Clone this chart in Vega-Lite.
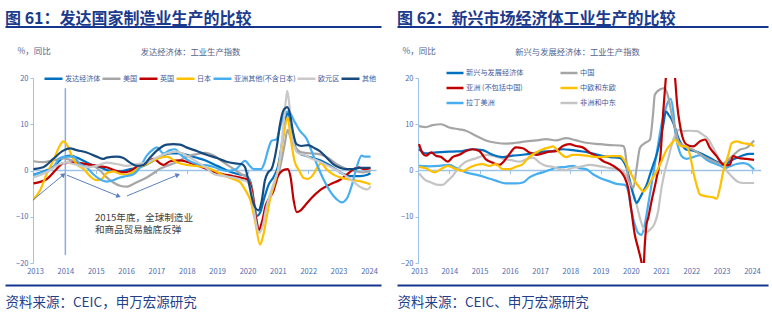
{
"$schema":"https://vega.github.io/schema/vega-lite/v6.json",
"padding":{"left":5,"top":10,"right":4,"bottom":4},
"background":"white",
"config":{"font":"Noto Sans CJK SC","view":{"stroke":null},"axis":{"grid":false}},
"datasets":{
"arrows":[{"id":"a","t1":2012.93,"v1":-6.4,"t2":2013.92,"v2":-1.0},{"id":"b","t1":2014.05,"v1":-1.0,"t2":2015.73,"v2":-5.5},{"id":"c","t1":2016.03,"v1":-5.5,"t2":2017.68,"v2":-1.0}],
"dev":[
{"s":"发达经济体","t":2012.95,"v":-0.9},{"s":"发达经济体","t":2013.27,"v":-0.3},{"s":"发达经济体","t":2013.6,"v":0.8},{"s":"发达经济体","t":2013.93,"v":2.8},{"s":"发达经济体","t":2014.15,"v":3.2},{"s":"发达经济体","t":2014.48,"v":2.5},{"s":"发达经济体","t":2014.81,"v":1.4},{"s":"发达经济体","t":2015.14,"v":0.7},{"s":"发达经济体","t":2015.47,"v":-0.1},{"s":"发达经济体","t":2015.8,"v":-0.2},{"s":"发达经济体","t":2016.13,"v":0.3},{"s":"发达经济体","t":2016.46,"v":0.7},{"s":"发达经济体","t":2016.79,"v":1.7},{"s":"发达经济体","t":2017.12,"v":3.0},{"s":"发达经济体","t":2017.45,"v":3.7},{"s":"发达经济体","t":2017.78,"v":3.7},{"s":"发达经济体","t":2017.99,"v":3.4},{"s":"发达经济体","t":2018.3,"v":2.8},{"s":"发达经济体","t":2018.6,"v":2.2},{"s":"发达经济体","t":2019.0,"v":1.0},{"s":"发达经济体","t":2019.4,"v":-0.2},{"s":"发达经济体","t":2019.7,"v":-0.8},{"s":"发达经济体","t":2019.95,"v":-1.2},{"s":"发达经济体","t":2020.1,"v":-2.5},{"s":"发达经济体","t":2020.2,"v":-6.5},{"s":"发达经济体","t":2020.32,"v":-9.8},{"s":"发达经济体","t":2020.42,"v":-9.0},{"s":"发达经济体","t":2020.55,"v":-6.0},{"s":"发达经济体","t":2020.7,"v":-3.0},{"s":"发达经济体","t":2020.85,"v":-1.5},{"s":"发达经济体","t":2021.0,"v":0.8},{"s":"发达经济体","t":2021.15,"v":6.5},{"s":"发达经济体","t":2021.27,"v":11.5},{"s":"发达经济体","t":2021.33,"v":12.5},{"s":"发达经济体","t":2021.42,"v":10.5},{"s":"发达经济体","t":2021.55,"v":5.5},{"s":"发达经济体","t":2021.7,"v":3.8},{"s":"发达经济体","t":2021.9,"v":3.2},{"s":"发达经济体","t":2022.1,"v":2.8},{"s":"发达经济体","t":2022.35,"v":2.3},{"s":"发达经济体","t":2022.6,"v":1.5},{"s":"发达经济体","t":2022.85,"v":0.5},{"s":"发达经济体","t":2023.1,"v":-0.6},{"s":"发达经济体","t":2023.4,"v":-1.2},{"s":"发达经济体","t":2023.7,"v":-1.2},{"s":"发达经济体","t":2023.95,"v":-0.9},{"s":"发达经济体","t":2024.05,"v":-0.6},
{"s":"美国","t":2012.95,"v":2.0},{"s":"美国","t":2013.27,"v":1.8},{"s":"美国","t":2013.6,"v":2.2},{"s":"美国","t":2013.93,"v":2.6},{"s":"美国","t":2014.21,"v":2.2},{"s":"美国","t":2014.59,"v":1.5},{"s":"美国","t":2014.92,"v":1.0},{"s":"美国","t":2015.14,"v":0.0},{"s":"美国","t":2015.36,"v":-1.5},{"s":"美国","t":2015.58,"v":-2.6},{"s":"美国","t":2015.8,"v":-3.3},{"s":"美国","t":2016.02,"v":-3.5},{"s":"美国","t":2016.24,"v":-2.9},{"s":"美国","t":2016.46,"v":-2.2},{"s":"美国","t":2016.68,"v":-1.5},{"s":"美国","t":2016.9,"v":-0.6},{"s":"美国","t":2017.12,"v":0.4},{"s":"美国","t":2017.34,"v":1.0},{"s":"美国","t":2017.56,"v":1.5},{"s":"美国","t":2017.78,"v":2.2},{"s":"美国","t":2018.0,"v":3.0},{"s":"美国","t":2018.3,"v":3.5},{"s":"美国","t":2018.6,"v":3.8},{"s":"美国","t":2018.9,"v":3.2},{"s":"美国","t":2019.2,"v":1.8},{"s":"美国","t":2019.5,"v":0.5},{"s":"美国","t":2019.8,"v":-0.8},{"s":"美国","t":2020.0,"v":-1.5},{"s":"美国","t":2020.15,"v":-4.0},{"s":"美国","t":2020.28,"v":-10.0},{"s":"美国","t":2020.38,"v":-13.0},{"s":"美国","t":2020.5,"v":-11.0},{"s":"美国","t":2020.65,"v":-7.0},{"s":"美国","t":2020.8,"v":-4.5},{"s":"美国","t":2020.95,"v":-2.5},{"s":"美国","t":2021.1,"v":1.5},{"s":"美国","t":2021.22,"v":5.5},{"s":"美国","t":2021.32,"v":8.8},{"s":"美国","t":2021.42,"v":7.0},{"s":"美国","t":2021.55,"v":5.2},{"s":"美国","t":2021.7,"v":4.2},{"s":"美国","t":2021.9,"v":3.8},{"s":"美国","t":2022.1,"v":3.7},{"s":"美国","t":2022.4,"v":3.5},{"s":"美国","t":2022.7,"v":2.5},{"s":"美国","t":2022.95,"v":1.3},{"s":"美国","t":2023.2,"v":0.5},{"s":"美国","t":2023.5,"v":-0.1},{"s":"美国","t":2023.8,"v":-0.4},{"s":"美国","t":2024.05,"v":-0.1},
{"s":"英国","t":2012.95,"v":-2.8},{"s":"英国","t":2013.38,"v":-1.9},{"s":"英国","t":2013.71,"v":0.3},{"s":"英国","t":2013.93,"v":1.6},{"s":"英国","t":2014.26,"v":1.7},{"s":"英国","t":2014.59,"v":1.5},{"s":"英国","t":2015.03,"v":1.0},{"s":"英国","t":2015.36,"v":0.7},{"s":"英国","t":2015.69,"v":-0.1},{"s":"英国","t":2015.91,"v":-0.4},{"s":"英国","t":2016.13,"v":-0.1},{"s":"英国","t":2016.35,"v":0.8},{"s":"英国","t":2016.68,"v":1.7},{"s":"英国","t":2016.9,"v":2.5},{"s":"英国","t":2017.23,"v":1.2},{"s":"英国","t":2017.45,"v":2.0},{"s":"英国","t":2017.78,"v":2.2},{"s":"英国","t":2017.99,"v":1.9},{"s":"英国","t":2018.3,"v":1.2},{"s":"英国","t":2018.6,"v":0.5},{"s":"英国","t":2018.9,"v":-0.3},{"s":"英国","t":2019.2,"v":-0.8},{"s":"英国","t":2019.5,"v":-1.2},{"s":"英国","t":2019.8,"v":-1.6},{"s":"英国","t":2020.0,"v":-2.0},{"s":"英国","t":2020.15,"v":-4.5},{"s":"英国","t":2020.27,"v":-10.0},{"s":"英国","t":2020.38,"v":-12.8},{"s":"英国","t":2020.48,"v":-11.0},{"s":"英国","t":2020.6,"v":-7.5},{"s":"英国","t":2020.72,"v":-6.0},{"s":"英国","t":2020.85,"v":-4.5},{"s":"英国","t":2020.98,"v":-1.5},{"s":"英国","t":2021.1,"v":-0.3},{"s":"英国","t":2021.22,"v":0.2},{"s":"英国","t":2021.32,"v":0.3},{"s":"英国","t":2021.42,"v":-1.5},{"s":"英国","t":2021.52,"v":-6.5},{"s":"英国","t":2021.62,"v":-9.0},{"s":"英国","t":2021.75,"v":-8.6},{"s":"英国","t":2021.9,"v":-7.5},{"s":"英国","t":2022.1,"v":-6.0},{"s":"英国","t":2022.4,"v":-4.2},{"s":"英国","t":2022.72,"v":-3.0},{"s":"英国","t":2023.05,"v":-2.0},{"s":"英国","t":2023.25,"v":-1.0},{"s":"英国","t":2023.5,"v":0.3},{"s":"英国","t":2023.65,"v":0.7},{"s":"英国","t":2023.85,"v":0.3},{"s":"英国","t":2024.05,"v":0.5},
{"s":"日本","t":2012.95,"v":-6.2},{"s":"日本","t":2013.16,"v":-4.4},{"s":"日本","t":2013.38,"v":-0.8},{"s":"日本","t":2013.6,"v":2.1},{"s":"日本","t":2013.82,"v":5.4},{"s":"日本","t":2013.93,"v":6.3},{"s":"日本","t":2014.04,"v":5.7},{"s":"日本","t":2014.21,"v":3.2},{"s":"日本","t":2014.37,"v":1.4},{"s":"日本","t":2014.59,"v":0.4},{"s":"日本","t":2014.81,"v":-1.2},{"s":"日本","t":2015.03,"v":-2.1},{"s":"日本","t":2015.2,"v":-1.8},{"s":"日本","t":2015.36,"v":-0.6},{"s":"日本","t":2015.58,"v":-0.2},{"s":"日本","t":2015.8,"v":-0.7},{"s":"日本","t":2016.02,"v":-0.9},{"s":"日本","t":2016.24,"v":-0.3},{"s":"日本","t":2016.46,"v":0.8},{"s":"日本","t":2016.68,"v":1.4},{"s":"日本","t":2017.01,"v":2.5},{"s":"日本","t":2017.34,"v":3.0},{"s":"日本","t":2017.67,"v":1.8},{"s":"日本","t":2017.99,"v":1.2},{"s":"日本","t":2018.3,"v":1.0},{"s":"日本","t":2018.6,"v":0.7},{"s":"日本","t":2018.9,"v":0.0},{"s":"日本","t":2019.2,"v":-1.0},{"s":"日本","t":2019.5,"v":-1.8},{"s":"日本","t":2019.75,"v":-2.5},{"s":"日本","t":2019.95,"v":-4.5},{"s":"日本","t":2020.1,"v":-6.5},{"s":"日本","t":2020.25,"v":-11.0},{"s":"日本","t":2020.41,"v":-16.0},{"s":"日本","t":2020.5,"v":-14.5},{"s":"日本","t":2020.62,"v":-10.5},{"s":"日本","t":2020.75,"v":-6.0},{"s":"日本","t":2020.88,"v":-3.0},{"s":"日本","t":2021.0,"v":0.0},{"s":"日本","t":2021.12,"v":4.5},{"s":"日本","t":2021.22,"v":9.0},{"s":"日本","t":2021.32,"v":11.5},{"s":"日本","t":2021.42,"v":7.0},{"s":"日本","t":2021.55,"v":2.0},{"s":"日本","t":2021.7,"v":0.0},{"s":"日本","t":2021.85,"v":-1.6},{"s":"日本","t":2022.0,"v":-1.8},{"s":"日本","t":2022.15,"v":-1.0},{"s":"日本","t":2022.3,"v":0.6},{"s":"日本","t":2022.42,"v":1.6},{"s":"日本","t":2022.6,"v":0.3},{"s":"日本","t":2022.83,"v":-0.9},{"s":"日本","t":2023.1,"v":-1.6},{"s":"日本","t":2023.4,"v":-2.0},{"s":"日本","t":2023.7,"v":-2.3},{"s":"日本","t":2024.05,"v":-3.0},
{"s":"亚洲其他(不含日本)","t":2012.95,"v":-1.0},{"s":"亚洲其他(不含日本)","t":2013.27,"v":-0.4},{"s":"亚洲其他(不含日本)","t":2013.6,"v":0.7},{"s":"亚洲其他(不含日本)","t":2013.82,"v":2.7},{"s":"亚洲其他(不含日本)","t":2014.04,"v":3.0},{"s":"亚洲其他(不含日本)","t":2014.26,"v":3.0},{"s":"亚洲其他(不含日本)","t":2014.48,"v":1.4},{"s":"亚洲其他(不含日本)","t":2014.7,"v":0.7},{"s":"亚洲其他(不含日本)","t":2014.92,"v":-0.8},{"s":"亚洲其他(不含日本)","t":2015.14,"v":-1.9},{"s":"亚洲其他(不含日本)","t":2015.36,"v":-2.4},{"s":"亚洲其他(不含日本)","t":2015.58,"v":-2.1},{"s":"亚洲其他(不含日本)","t":2015.8,"v":-1.5},{"s":"亚洲其他(不含日本)","t":2016.02,"v":-1.2},{"s":"亚洲其他(不含日本)","t":2016.24,"v":-0.8},{"s":"亚洲其他(不含日本)","t":2016.46,"v":0.7},{"s":"亚洲其他(不含日本)","t":2016.68,"v":3.2},{"s":"亚洲其他(不含日本)","t":2016.9,"v":4.6},{"s":"亚洲其他(不含日本)","t":2017.01,"v":5.0},{"s":"亚洲其他(不含日本)","t":2017.23,"v":3.7},{"s":"亚洲其他(不含日本)","t":2017.45,"v":4.4},{"s":"亚洲其他(不含日本)","t":2017.61,"v":4.6},{"s":"亚洲其他(不含日本)","t":2017.83,"v":3.2},{"s":"亚洲其他(不含日本)","t":2018.1,"v":2.0},{"s":"亚洲其他(不含日本)","t":2018.4,"v":1.3},{"s":"亚洲其他(不含日本)","t":2018.76,"v":1.0},{"s":"亚洲其他(不含日本)","t":2019.0,"v":0.5},{"s":"亚洲其他(不含日本)","t":2019.3,"v":-0.1},{"s":"亚洲其他(不含日本)","t":2019.6,"v":0.2},{"s":"亚洲其他(不含日本)","t":2019.92,"v":2.1},{"s":"亚洲其他(不含日本)","t":2020.05,"v":1.2},{"s":"亚洲其他(不含日本)","t":2020.2,"v":0.3},{"s":"亚洲其他(不含日本)","t":2020.45,"v":0.3},{"s":"亚洲其他(不含日本)","t":2020.55,"v":1.5},{"s":"亚洲其他(不含日本)","t":2020.67,"v":4.3},{"s":"亚洲其他(不含日本)","t":2020.79,"v":6.4},{"s":"亚洲其他(不含日本)","t":2020.96,"v":6.8},{"s":"亚洲其他(不含日本)","t":2021.07,"v":9.3},{"s":"亚洲其他(不含日本)","t":2021.24,"v":12.5},{"s":"亚洲其他(不含日本)","t":2021.35,"v":12.8},{"s":"亚洲其他(不含日本)","t":2021.56,"v":10.4},{"s":"亚洲其他(不含日本)","t":2021.72,"v":8.6},{"s":"亚洲其他(不含日本)","t":2021.95,"v":6.8},{"s":"亚洲其他(不含日本)","t":2022.11,"v":4.2},{"s":"亚洲其他(不含日本)","t":2022.28,"v":1.4},{"s":"亚洲其他(不含日本)","t":2022.5,"v":-1.9},{"s":"亚洲其他(不含日本)","t":2022.71,"v":-4.4},{"s":"亚洲其他(不含日本)","t":2022.93,"v":-6.2},{"s":"亚洲其他(不含日本)","t":2023.1,"v":-6.9},{"s":"亚洲其他(不含日本)","t":2023.26,"v":-6.2},{"s":"亚洲其他(不含日本)","t":2023.43,"v":-3.3},{"s":"亚洲其他(不含日本)","t":2023.59,"v":0.6},{"s":"亚洲其他(不含日本)","t":2023.76,"v":3.2},{"s":"亚洲其他(不含日本)","t":2023.87,"v":3.0},{"s":"亚洲其他(不含日本)","t":2024.05,"v":3.0},
{"s":"欧元区","t":2012.95,"v":-1.5},{"s":"欧元区","t":2013.38,"v":-0.4},{"s":"欧元区","t":2013.82,"v":1.4},{"s":"欧元区","t":2014.04,"v":1.7},{"s":"欧元区","t":2014.37,"v":1.2},{"s":"欧元区","t":2014.7,"v":0.7},{"s":"欧元区","t":2015.03,"v":1.0},{"s":"欧元区","t":2015.36,"v":1.7},{"s":"欧元区","t":2015.69,"v":1.4},{"s":"欧元区","t":2016.02,"v":1.0},{"s":"欧元区","t":2016.35,"v":1.4},{"s":"欧元区","t":2016.68,"v":1.7},{"s":"欧元区","t":2017.01,"v":2.8},{"s":"欧元区","t":2017.34,"v":3.7},{"s":"欧元区","t":2017.67,"v":4.1},{"s":"欧元区","t":2017.99,"v":3.2},{"s":"欧元区","t":2018.3,"v":2.0},{"s":"欧元区","t":2018.6,"v":0.8},{"s":"欧元区","t":2018.9,"v":-0.8},{"s":"欧元区","t":2019.2,"v":-1.2},{"s":"欧元区","t":2019.5,"v":-1.5},{"s":"欧元区","t":2019.8,"v":-2.0},{"s":"欧元区","t":2020.0,"v":-2.5},{"s":"欧元区","t":2020.15,"v":-5.5},{"s":"欧元区","t":2020.27,"v":-11.0},{"s":"欧元区","t":2020.38,"v":-13.5},{"s":"欧元区","t":2020.5,"v":-12.0},{"s":"欧元区","t":2020.62,"v":-8.0},{"s":"欧元区","t":2020.75,"v":-5.0},{"s":"欧元区","t":2020.9,"v":-2.0},{"s":"欧元区","t":2021.05,"v":1.5},{"s":"欧元区","t":2021.17,"v":9.0},{"s":"欧元区","t":2021.27,"v":15.5},{"s":"欧元区","t":2021.31,"v":17.2},{"s":"欧元区","t":2021.38,"v":14.0},{"s":"欧元区","t":2021.5,"v":6.5},{"s":"欧元区","t":2021.65,"v":3.8},{"s":"欧元区","t":2021.85,"v":3.4},{"s":"欧元区","t":2022.1,"v":2.6},{"s":"欧元区","t":2022.35,"v":2.0},{"s":"欧元区","t":2022.6,"v":1.2},{"s":"欧元区","t":2022.9,"v":0.2},{"s":"欧元区","t":2023.15,"v":-0.8},{"s":"欧元区","t":2023.45,"v":-2.2},{"s":"欧元区","t":2023.7,"v":-3.5},{"s":"欧元区","t":2023.95,"v":-4.1},{"s":"欧元区","t":2024.05,"v":-3.4},
{"s":"其他","t":2012.95,"v":0.3},{"s":"其他","t":2013.27,"v":0.7},{"s":"其他","t":2013.6,"v":2.5},{"s":"其他","t":2013.93,"v":4.3},{"s":"其他","t":2014.15,"v":4.8},{"s":"其他","t":2014.37,"v":4.4},{"s":"其他","t":2014.7,"v":3.9},{"s":"其他","t":2015.03,"v":3.0},{"s":"其他","t":2015.25,"v":2.5},{"s":"其他","t":2015.36,"v":2.8},{"s":"其他","t":2015.69,"v":3.0},{"s":"其他","t":2015.91,"v":2.7},{"s":"其他","t":2016.13,"v":1.7},{"s":"其他","t":2016.35,"v":1.0},{"s":"其他","t":2016.57,"v":1.2},{"s":"其他","t":2016.79,"v":2.8},{"s":"其他","t":2017.01,"v":4.3},{"s":"其他","t":2017.34,"v":5.6},{"s":"其他","t":2017.56,"v":5.7},{"s":"其他","t":2017.78,"v":5.6},{"s":"其他","t":2017.99,"v":5.0},{"s":"其他","t":2018.33,"v":4.2},{"s":"其他","t":2018.65,"v":3.4},{"s":"其他","t":2018.99,"v":2.7},{"s":"其他","t":2019.31,"v":1.9},{"s":"其他","t":2019.64,"v":1.5},{"s":"其他","t":2019.8,"v":1.4},{"s":"其他","t":2019.91,"v":0.8},{"s":"其他","t":2020.03,"v":-2.2},{"s":"其他","t":2020.14,"v":-5.8},{"s":"其他","t":2020.25,"v":-8.0},{"s":"其他","t":2020.36,"v":-8.6},{"s":"其他","t":2020.47,"v":-6.5},{"s":"其他","t":2020.57,"v":-2.2},{"s":"其他","t":2020.68,"v":-0.4},{"s":"其他","t":2020.79,"v":0.3},{"s":"其他","t":2020.96,"v":5.0},{"s":"其他","t":2021.07,"v":10.0},{"s":"其他","t":2021.2,"v":13.2},{"s":"其他","t":2021.31,"v":13.7},{"s":"其他","t":2021.4,"v":12.2},{"s":"其他","t":2021.5,"v":8.2},{"s":"其他","t":2021.61,"v":5.7},{"s":"其他","t":2021.78,"v":5.3},{"s":"其他","t":2022.0,"v":5.5},{"s":"其他","t":2022.16,"v":5.0},{"s":"其他","t":2022.38,"v":4.2},{"s":"其他","t":2022.6,"v":2.8},{"s":"其他","t":2022.82,"v":1.4},{"s":"其他","t":2023.04,"v":0.6},{"s":"其他","t":2023.26,"v":0.3},{"s":"其他","t":2023.48,"v":0.3},{"s":"其他","t":2023.7,"v":0.6},{"s":"其他","t":2024.05,"v":0.6}
],
"em":[
{"s":"新兴与发展经济体","t":2013.0,"v":4.6},{"s":"新兴与发展经济体","t":2013.23,"v":3.7},{"s":"新兴与发展经济体","t":2013.56,"v":3.9},{"s":"新兴与发展经济体","t":2014.11,"v":4.1},{"s":"新兴与发展经济体","t":2014.44,"v":4.2},{"s":"新兴与发展经济体","t":2014.77,"v":4.6},{"s":"新兴与发展经济体","t":2015.1,"v":4.4},{"s":"新兴与发展经济体","t":2015.43,"v":3.4},{"s":"新兴与发展经济体","t":2015.76,"v":2.9},{"s":"新兴与发展经济体","t":2016.09,"v":3.2},{"s":"新兴与发展经济体","t":2016.43,"v":3.4},{"s":"新兴与发展经济体","t":2016.76,"v":3.7},{"s":"新兴与发展经济体","t":2017.09,"v":4.1},{"s":"新兴与发展经济体","t":2017.42,"v":4.2},{"s":"新兴与发展经济体","t":2017.75,"v":4.6},{"s":"新兴与发展经济体","t":2018.08,"v":4.4},{"s":"新兴与发展经济体","t":2018.41,"v":4.1},{"s":"新兴与发展经济体","t":2018.65,"v":3.8},{"s":"新兴与发展经济体","t":2018.98,"v":3.3},{"s":"新兴与发展经济体","t":2019.31,"v":2.9},{"s":"新兴与发展经济体","t":2019.64,"v":2.7},{"s":"新兴与发展经济体","t":2019.75,"v":2.0},{"s":"新兴与发展经济体","t":2019.86,"v":0.5},{"s":"新兴与发展经济体","t":2019.97,"v":-2.3},{"s":"新兴与发展经济体","t":2020.08,"v":-5.2},{"s":"新兴与发展经济体","t":2020.19,"v":-7.0},{"s":"新兴与发展经济体","t":2020.3,"v":-5.9},{"s":"新兴与发展经济体","t":2020.41,"v":-4.5},{"s":"新兴与发展经济体","t":2020.52,"v":-3.1},{"s":"新兴与发展经济体","t":2020.63,"v":-0.9},{"s":"新兴与发展经济体","t":2020.74,"v":1.3},{"s":"新兴与发展经济体","t":2020.85,"v":3.4},{"s":"新兴与发展经济体","t":2020.96,"v":6.3},{"s":"新兴与发展经济体","t":2021.07,"v":9.9},{"s":"新兴与发展经济体","t":2021.16,"v":12.8},{"s":"新兴与发展经济体","t":2021.24,"v":12.1},{"s":"新兴与发展经济体","t":2021.35,"v":11.0},{"s":"新兴与发展经济体","t":2021.46,"v":9.2},{"s":"新兴与发展经济体","t":2021.57,"v":7.0},{"s":"新兴与发展经济体","t":2021.68,"v":5.6},{"s":"新兴与发展经济体","t":2021.84,"v":4.5},{"s":"新兴与发展经济体","t":2022.06,"v":4.3},{"s":"新兴与发展经济体","t":2022.28,"v":3.8},{"s":"新兴与发展经济体","t":2022.5,"v":3.1},{"s":"新兴与发展经济体","t":2022.72,"v":2.3},{"s":"新兴与发展经济体","t":2022.94,"v":1.6},{"s":"新兴与发展经济体","t":2023.11,"v":1.1},{"s":"新兴与发展经济体","t":2023.27,"v":2.0},{"s":"新兴与发展经济体","t":2023.49,"v":2.7},{"s":"新兴与发展经济体","t":2023.71,"v":3.3},{"s":"新兴与发展经济体","t":2023.93,"v":3.6},{"s":"新兴与发展经济体","t":2024.07,"v":3.6},
{"s":"中国","t":2013.0,"v":9.6},{"s":"中国","t":2013.23,"v":9.4},{"s":"中国","t":2013.45,"v":9.8},{"s":"中国","t":2013.73,"v":10.0},{"s":"中国","t":2014.0,"v":9.3},{"s":"中国","t":2014.33,"v":8.9},{"s":"中国","t":2014.55,"v":8.6},{"s":"中国","t":2014.88,"v":7.5},{"s":"中国","t":2015.21,"v":6.5},{"s":"中国","t":2015.54,"v":6.0},{"s":"中国","t":2015.87,"v":5.8},{"s":"中国","t":2016.2,"v":6.0},{"s":"中国","t":2016.54,"v":6.3},{"s":"中国","t":2016.87,"v":6.5},{"s":"中国","t":2017.2,"v":6.8},{"s":"中国","t":2017.53,"v":6.5},{"s":"中国","t":2017.86,"v":7.0},{"s":"中国","t":2018.19,"v":6.5},{"s":"中国","t":2018.52,"v":6.0},{"s":"中国","t":2018.98,"v":5.7},{"s":"中国","t":2019.31,"v":5.5},{"s":"中国","t":2019.64,"v":5.4},{"s":"中国","t":2019.75,"v":5.3},{"s":"中国","t":2019.8,"v":4.5},{"s":"中国","t":2019.86,"v":1.5},{"s":"中国","t":2019.91,"v":-1.6},{"s":"中国","t":2020.0,"v":-3.0},{"s":"中国","t":2020.08,"v":-3.8},{"s":"中国","t":2020.19,"v":0.5},{"s":"中国","t":2020.3,"v":4.9},{"s":"中国","t":2020.46,"v":5.9},{"s":"中国","t":2020.63,"v":6.7},{"s":"中国","t":2020.74,"v":12.8},{"s":"中国","t":2020.79,"v":16.4},{"s":"中国","t":2020.96,"v":17.5},{"s":"中国","t":2021.12,"v":17.8},{"s":"中国","t":2021.24,"v":15.7},{"s":"中国","t":2021.35,"v":12.1},{"s":"中国","t":2021.46,"v":9.2},{"s":"中国","t":2021.57,"v":6.3},{"s":"中国","t":2021.79,"v":5.2},{"s":"中国","t":2022.06,"v":4.5},{"s":"中国","t":2022.39,"v":3.1},{"s":"中国","t":2022.72,"v":2.0},{"s":"中国","t":2023.0,"v":1.4},{"s":"中国","t":2023.16,"v":2.0},{"s":"中国","t":2023.38,"v":3.3},{"s":"中国","t":2023.6,"v":4.5},{"s":"中国","t":2023.82,"v":4.9},{"s":"中国","t":2024.07,"v":6.5},
{"s":"亚洲 (不包括中国)","t":2013.0,"v":5.7},{"s":"亚洲 (不包括中国)","t":2013.12,"v":3.7},{"s":"亚洲 (不包括中国)","t":2013.23,"v":3.2},{"s":"亚洲 (不包括中国)","t":2013.4,"v":3.9},{"s":"亚洲 (不包括中国)","t":2013.56,"v":3.2},{"s":"亚洲 (不包括中国)","t":2013.73,"v":2.9},{"s":"亚洲 (不包括中国)","t":2013.95,"v":1.9},{"s":"亚洲 (不包括中国)","t":2014.11,"v":2.9},{"s":"亚洲 (不包括中国)","t":2014.33,"v":3.4},{"s":"亚洲 (不包括中国)","t":2014.55,"v":4.2},{"s":"亚洲 (不包括中国)","t":2014.77,"v":4.6},{"s":"亚洲 (不包括中国)","t":2014.99,"v":4.2},{"s":"亚洲 (不包括中国)","t":2015.21,"v":2.4},{"s":"亚洲 (不包括中国)","t":2015.43,"v":1.7},{"s":"亚洲 (不包括中国)","t":2015.65,"v":1.2},{"s":"亚洲 (不包括中国)","t":2015.82,"v":2.1},{"s":"亚洲 (不包括中国)","t":2015.98,"v":3.5},{"s":"亚洲 (不包括中国)","t":2016.2,"v":5.0},{"s":"亚洲 (不包括中国)","t":2016.43,"v":4.8},{"s":"亚洲 (不包括中国)","t":2016.65,"v":3.9},{"s":"亚洲 (不包括中国)","t":2016.87,"v":3.4},{"s":"亚洲 (不包括中国)","t":2017.09,"v":3.7},{"s":"亚洲 (不包括中国)","t":2017.31,"v":4.1},{"s":"亚洲 (不包括中国)","t":2017.53,"v":4.2},{"s":"亚洲 (不包括中国)","t":2017.75,"v":5.3},{"s":"亚洲 (不包括中国)","t":2017.97,"v":5.7},{"s":"亚洲 (不包括中国)","t":2018.19,"v":5.3},{"s":"亚洲 (不包括中国)","t":2018.41,"v":5.0},{"s":"亚洲 (不包括中国)","t":2018.65,"v":3.8},{"s":"亚洲 (不包括中国)","t":2018.87,"v":3.1},{"s":"亚洲 (不包括中国)","t":2019.09,"v":2.0},{"s":"亚洲 (不包括中国)","t":2019.31,"v":1.4},{"s":"亚洲 (不包括中国)","t":2019.53,"v":0.5},{"s":"亚洲 (不包括中国)","t":2019.7,"v":-0.5},{"s":"亚洲 (不包括中国)","t":2019.8,"v":-1.6},{"s":"亚洲 (不包括中国)","t":2019.91,"v":-3.8},{"s":"亚洲 (不包括中国)","t":2020.02,"v":-8.8},{"s":"亚洲 (不包括中国)","t":2020.13,"v":-13.9},{"s":"亚洲 (不包括中国)","t":2020.24,"v":-16.8},{"s":"亚洲 (不包括中国)","t":2020.35,"v":-19.8},{"s":"亚洲 (不包括中国)","t":2020.41,"v":-22.0},{"s":"亚洲 (不包括中国)","t":2020.46,"v":-16.0},{"s":"亚洲 (不包括中国)","t":2020.52,"v":-11.5},{"s":"亚洲 (不包括中国)","t":2020.57,"v":-10.3},{"s":"亚洲 (不包括中国)","t":2020.68,"v":-6.7},{"s":"亚洲 (不包括中国)","t":2020.85,"v":-1.6},{"s":"亚洲 (不包括中国)","t":2020.98,"v":3.4},{"s":"亚洲 (不包括中国)","t":2021.07,"v":12.8},{"s":"亚洲 (不包括中国)","t":2021.16,"v":20.5},{"s":"亚洲 (不包括中国)","t":2021.25,"v":27.0},{"s":"亚洲 (不包括中国)","t":2021.36,"v":27.0},{"s":"亚洲 (不包括中国)","t":2021.46,"v":20.0},{"s":"亚洲 (不包括中国)","t":2021.53,"v":14.2},{"s":"亚洲 (不包括中国)","t":2021.62,"v":9.9},{"s":"亚洲 (不包括中国)","t":2021.73,"v":6.7},{"s":"亚洲 (不包括中国)","t":2021.84,"v":5.6},{"s":"亚洲 (不包括中国)","t":2022.06,"v":5.2},{"s":"亚洲 (不包括中国)","t":2022.28,"v":6.3},{"s":"亚洲 (不包括中国)","t":2022.45,"v":6.7},{"s":"亚洲 (不包括中国)","t":2022.61,"v":4.9},{"s":"亚洲 (不包括中国)","t":2022.83,"v":3.1},{"s":"亚洲 (不包括中国)","t":2023.05,"v":1.3},{"s":"亚洲 (不包括中国)","t":2023.16,"v":1.1},{"s":"亚洲 (不包括中国)","t":2023.27,"v":1.3},{"s":"亚洲 (不包括中国)","t":2023.38,"v":3.1},{"s":"亚洲 (不包括中国)","t":2023.55,"v":2.7},{"s":"亚洲 (不包括中国)","t":2023.82,"v":2.5},{"s":"亚洲 (不包括中国)","t":2024.07,"v":2.3},
{"s":"中欧和东欧","t":2013.0,"v":0.8},{"s":"中欧和东欧","t":2013.23,"v":0.5},{"s":"中欧和东欧","t":2013.51,"v":-0.4},{"s":"中欧和东欧","t":2013.73,"v":0.3},{"s":"中欧和东欧","t":2013.95,"v":1.0},{"s":"中欧和东欧","t":2014.22,"v":0.3},{"s":"中欧和东欧","t":2014.44,"v":-0.1},{"s":"中欧和东欧","t":2014.66,"v":0.6},{"s":"中欧和东欧","t":2014.88,"v":1.2},{"s":"中欧和东欧","t":2015.1,"v":1.4},{"s":"中欧和东欧","t":2015.32,"v":1.0},{"s":"中欧和东欧","t":2015.54,"v":1.4},{"s":"中欧和东欧","t":2015.76,"v":0.3},{"s":"中欧和东欧","t":2015.98,"v":0.3},{"s":"中欧和东欧","t":2016.2,"v":0.8},{"s":"中欧和东欧","t":2016.43,"v":1.4},{"s":"中欧和东欧","t":2016.65,"v":3.0},{"s":"中欧和东欧","t":2016.87,"v":3.9},{"s":"中欧和东欧","t":2017.09,"v":4.6},{"s":"中欧和东欧","t":2017.31,"v":5.0},{"s":"中欧和东欧","t":2017.42,"v":5.2},{"s":"中欧和东欧","t":2017.64,"v":3.9},{"s":"中欧和东欧","t":2017.86,"v":2.9},{"s":"中欧和东欧","t":2018.08,"v":3.4},{"s":"中欧和东欧","t":2018.3,"v":3.4},{"s":"中欧和东欧","t":2018.52,"v":3.2},{"s":"中欧和东欧","t":2018.98,"v":2.9},{"s":"中欧和东欧","t":2019.31,"v":3.1},{"s":"中欧和东欧","t":2019.64,"v":3.1},{"s":"中欧和东欧","t":2019.8,"v":2.0},{"s":"中欧和东欧","t":2019.97,"v":-0.2},{"s":"中欧和东欧","t":2020.13,"v":-2.3},{"s":"中欧和东欧","t":2020.3,"v":-3.8},{"s":"中欧和东欧","t":2020.41,"v":-4.6},{"s":"中欧和东欧","t":2020.52,"v":-3.8},{"s":"中欧和东欧","t":2020.68,"v":-2.0},{"s":"中欧和东欧","t":2020.85,"v":-0.2},{"s":"中欧和东欧","t":2021.01,"v":2.0},{"s":"中欧和东欧","t":2021.18,"v":4.5},{"s":"中欧和东欧","t":2021.35,"v":5.9},{"s":"中欧和东欧","t":2021.46,"v":6.7},{"s":"中欧和东欧","t":2021.6,"v":5.5},{"s":"中欧和东欧","t":2021.73,"v":5.2},{"s":"中欧和东欧","t":2021.84,"v":5.2},{"s":"中欧和东欧","t":2021.95,"v":3.4},{"s":"中欧和东欧","t":2022.06,"v":-0.2},{"s":"中欧和东欧","t":2022.17,"v":-3.1},{"s":"中欧和东欧","t":2022.28,"v":-5.2},{"s":"中欧和东欧","t":2022.5,"v":-5.6},{"s":"中欧和东欧","t":2022.72,"v":-5.8},{"s":"中欧和东欧","t":2022.83,"v":-6.1},{"s":"中欧和东欧","t":2022.94,"v":-3.8},{"s":"中欧和东欧","t":2023.05,"v":-0.2},{"s":"中欧和东欧","t":2023.22,"v":3.4},{"s":"中欧和东欧","t":2023.33,"v":5.9},{"s":"中欧和东欧","t":2023.49,"v":6.3},{"s":"中欧和东欧","t":2023.71,"v":5.9},{"s":"中欧和东欧","t":2023.93,"v":5.7},{"s":"中欧和东欧","t":2024.07,"v":5.2},
{"s":"拉丁美洲","t":2013.0,"v":1.0},{"s":"拉丁美洲","t":2013.34,"v":0.9},{"s":"拉丁美洲","t":2013.67,"v":1.0},{"s":"拉丁美洲","t":2014.0,"v":1.2},{"s":"拉丁美洲","t":2014.22,"v":0.6},{"s":"拉丁美洲","t":2014.55,"v":-0.4},{"s":"拉丁美洲","t":2014.88,"v":-0.9},{"s":"拉丁美洲","t":2015.21,"v":-1.5},{"s":"拉丁美洲","t":2015.54,"v":-2.2},{"s":"拉丁美洲","t":2015.87,"v":-2.8},{"s":"拉丁美洲","t":2016.2,"v":-2.8},{"s":"拉丁美洲","t":2016.43,"v":-2.6},{"s":"拉丁美洲","t":2016.65,"v":-1.5},{"s":"拉丁美洲","t":2016.87,"v":-0.8},{"s":"拉丁美洲","t":2017.09,"v":-0.4},{"s":"拉丁美洲","t":2017.31,"v":0.1},{"s":"拉丁美洲","t":2017.53,"v":0.6},{"s":"拉丁美洲","t":2017.86,"v":0.8},{"s":"拉丁美洲","t":2018.08,"v":1.0},{"s":"拉丁美洲","t":2018.3,"v":0.5},{"s":"拉丁美洲","t":2018.52,"v":0.3},{"s":"拉丁美洲","t":2018.75,"v":-0.8},{"s":"拉丁美洲","t":2018.98,"v":-1.6},{"s":"拉丁美洲","t":2019.31,"v":-2.4},{"s":"拉丁美洲","t":2019.53,"v":-2.9},{"s":"拉丁美洲","t":2019.8,"v":-3.1},{"s":"拉丁美洲","t":2019.91,"v":-4.5},{"s":"拉丁美洲","t":2020.02,"v":-8.8},{"s":"拉丁美洲","t":2020.13,"v":-11.7},{"s":"拉丁美洲","t":2020.24,"v":-13.5},{"s":"拉丁美洲","t":2020.35,"v":-13.9},{"s":"拉丁美洲","t":2020.46,"v":-11.7},{"s":"拉丁美洲","t":2020.57,"v":-7.4},{"s":"拉丁美洲","t":2020.68,"v":-3.1},{"s":"拉丁美洲","t":2020.79,"v":1.3},{"s":"拉丁美洲","t":2020.9,"v":5.6},{"s":"拉丁美洲","t":2021.01,"v":9.9},{"s":"拉丁美洲","t":2021.12,"v":12.8},{"s":"拉丁美洲","t":2021.24,"v":15.0},{"s":"拉丁美洲","t":2021.31,"v":15.5},{"s":"拉丁美洲","t":2021.4,"v":12.8},{"s":"拉丁美洲","t":2021.46,"v":8.5},{"s":"拉丁美洲","t":2021.57,"v":4.9},{"s":"拉丁美洲","t":2021.68,"v":3.1},{"s":"拉丁美洲","t":2021.84,"v":2.5},{"s":"拉丁美洲","t":2022.06,"v":2.9},{"s":"拉丁美洲","t":2022.28,"v":3.3},{"s":"拉丁美洲","t":2022.5,"v":2.3},{"s":"拉丁美洲","t":2022.72,"v":1.6},{"s":"拉丁美洲","t":2022.94,"v":1.1},{"s":"拉丁美洲","t":2023.11,"v":0.5},{"s":"拉丁美洲","t":2023.27,"v":0.9},{"s":"拉丁美洲","t":2023.49,"v":1.4},{"s":"拉丁美洲","t":2023.71,"v":1.6},{"s":"拉丁美洲","t":2023.88,"v":1.3},{"s":"拉丁美洲","t":2024.07,"v":0.2},
{"s":"非洲和中东","t":2013.0,"v":-0.6},{"s":"非洲和中东","t":2013.18,"v":-1.9},{"s":"非洲和中东","t":2013.4,"v":-2.6},{"s":"非洲和中东","t":2013.62,"v":-3.1},{"s":"非洲和中东","t":2013.78,"v":-3.1},{"s":"非洲和中东","t":2013.95,"v":-2.2},{"s":"非洲和中东","t":2014.11,"v":-1.2},{"s":"非洲和中东","t":2014.28,"v":0.3},{"s":"非洲和中东","t":2014.5,"v":1.7},{"s":"非洲和中东","t":2014.77,"v":2.4},{"s":"非洲和中东","t":2014.99,"v":2.9},{"s":"非洲和中东","t":2015.21,"v":3.4},{"s":"非洲和中东","t":2015.43,"v":3.2},{"s":"非洲和中东","t":2015.65,"v":2.8},{"s":"非洲和中东","t":2015.87,"v":2.4},{"s":"非洲和中东","t":2016.09,"v":2.2},{"s":"非洲和中东","t":2016.31,"v":1.9},{"s":"非洲和中东","t":2016.54,"v":2.4},{"s":"非洲和中东","t":2016.76,"v":2.8},{"s":"非洲和中东","t":2016.98,"v":1.7},{"s":"非洲和中东","t":2017.2,"v":1.0},{"s":"非洲和中东","t":2017.42,"v":0.8},{"s":"非洲和中东","t":2017.64,"v":0.3},{"s":"非洲和中东","t":2017.86,"v":0.1},{"s":"非洲和中东","t":2018.08,"v":0.6},{"s":"非洲和中东","t":2018.3,"v":0.8},{"s":"非洲和中东","t":2018.65,"v":1.2},{"s":"非洲和中东","t":2018.98,"v":0.9},{"s":"非洲和中东","t":2019.31,"v":0.5},{"s":"非洲和中东","t":2019.64,"v":0.2},{"s":"非洲和中东","t":2019.86,"v":-1.3},{"s":"非洲和中东","t":2020.02,"v":-3.8},{"s":"非洲和中东","t":2020.19,"v":-7.4},{"s":"非洲和中东","t":2020.3,"v":-10.3},{"s":"非洲和中东","t":2020.41,"v":-12.4},{"s":"非洲和中东","t":2020.52,"v":-13.3},{"s":"非洲和中东","t":2020.63,"v":-12.8},{"s":"非洲和中东","t":2020.79,"v":-11.4},{"s":"非洲和中东","t":2020.9,"v":-8.8},{"s":"非洲和中东","t":2021.01,"v":-3.8},{"s":"非洲和中东","t":2021.12,"v":-0.2},{"s":"非洲和中东","t":2021.24,"v":2.7},{"s":"非洲和中东","t":2021.35,"v":5.6},{"s":"非洲和中东","t":2021.46,"v":7.7},{"s":"非洲和中东","t":2021.57,"v":8.8},{"s":"非洲和中东","t":2021.73,"v":8.5},{"s":"非洲和中东","t":2021.95,"v":8.6},{"s":"非洲和中东","t":2022.17,"v":8.5},{"s":"非洲和中东","t":2022.39,"v":7.7},{"s":"非洲和中东","t":2022.56,"v":6.7},{"s":"非洲和中东","t":2022.72,"v":4.9},{"s":"非洲和中东","t":2022.89,"v":2.7},{"s":"非洲和中东","t":2023.05,"v":0.9},{"s":"非洲和中东","t":2023.22,"v":-0.5},{"s":"非洲和中东","t":2023.38,"v":-1.6},{"s":"非洲和中东","t":2023.55,"v":-2.5},{"s":"非洲和中东","t":2023.71,"v":-2.7},{"s":"非洲和中东","t":2023.93,"v":-2.7},{"s":"非洲和中东","t":2024.07,"v":-2.7}
]},
"spacing":16,
"bounds":"flush",
"resolve":{"scale":{"color":"independent","x":"independent","y":"independent"}},
"hconcat":[
{
"width":376,"height":185,
"title":{"text":"图 61：发达国家制造业生产的比较","anchor":"start","frame":"group","fontSize":16,"fontWeight":"bold","color":"#1B3A8C","offset":0},
"resolve":{"axis":{"x":"independent"}},
"layer":[
{"data":{"values":[{}]},"mark":{"type":"rule","color":"#9DC3E6","strokeWidth":1.3},
"encoding":{"x":{"datum":2012.93,"type":"quantitative","scale":{"domain":[2012.012,2024.396],"nice":false,"zero":false},
"axis":{"orient":"bottom","offset":-92.5,"domain":false,"ticks":true,"tickSize":3,"tickColor":"#9DC3E6","labels":false,"grid":false,"values":[2014,2015,2016,2017,2018,2019,2020,2021,2022,2023,2024],"title":null}},
"x2":{"datum":2024.25},"y":{"datum":0,"type":"quantitative","scale":{"domain":[-20,20],"nice":false}}}},
{"data":{"values":[{}]},"mark":{"type":"rule","color":"#8FAADC","strokeWidth":1.5},
"encoding":{"x":{"datum":2014.0,"type":"quantitative","scale":{"domain":[2012.012,2024.396],"nice":false,"zero":false},
"axis":{"orient":"top","offset":51.5,"domainColor":"#14368F","domainWidth":2,"ticks":false,"labels":false,"grid":false,"title":"发达经济体：工业生产指数","titleX":185,"titleY":25.5,"titleAlign":"center","titleBaseline":"middle","titleFontSize":8.3,"titleFontWeight":"normal","titleColor":"#52638C","titleAngle":0}},
"y":{"datum":17.8,"type":"quantitative","scale":{"domain":[-20,20],"nice":false}},"y2":{"datum":-18.3}}},
{"data":{"name":"dev"},"mark":{"type":"line","strokeWidth":2.2,"interpolate":"monotone"},
"encoding":{"x":{"field":"t","type":"quantitative","scale":{"domain":[2012.012,2024.396],"nice":false,"zero":false},
"axis":{"orient":"bottom","values":[2013,2014,2015,2016,2017,2018,2019,2020,2021,2022,2023,2024],"format":"d","domain":false,"ticks":false,"grid":false,"labelFontSize":7.5,"labelColor":"#4B6BAE","labelPadding":4,"title":null}},
"y":{"field":"v","type":"quantitative","scale":{"domain":[-20,20],"nice":false},
"axis":{"orient":"left","offset":-28,"values":[-20,-15,-10,-5,0,5,10,15,20],"domainColor":"#9DC3E6","tickColor":"#9DC3E6","tickSize":3,"labelFontSize":7.5,"labelColor":"#4B6BAE","labelPadding":2,"grid":false,"title":"%，同比","titleAngle":0,"titleAlign":"left","titleBaseline":"middle","titleX":-16,"titleY":-27.5,"titleFontSize":8.5,"titleFontWeight":"normal","titleColor":"#52638C"}},
"color":{"field":"s","type":"nominal","scale":{"domain":["发达经济体","美国","英国","日本","亚洲其他(不含日本)","欧元区","其他"],"range":["#0070C0","#A6A6A6","#C00000","#FFC000","#47AEF0","#C9C9C9","#174A7C"]},
"legend":{"orient":"none","legendX":38,"legendY":-10,"direction":"horizontal","columns":7,"title":null,"symbolType":"stroke","symbolSize":324,"symbolStrokeWidth":2.5,"labelFontSize":7.1,"labelColor":"#3C5A9A","labelOffset":1,"columnPadding":-7,"labelLimit":0}}}},
{"data":{"name":"arrows"},"mark":{"type":"rule","color":"#5B7FC0","strokeWidth":1},
"encoding":{"x":{"field":"t1","type":"quantitative","scale":{"domain":[2012.012,2024.396],"nice":false,"zero":false},
"axis":{"orient":"bottom","offset":22,"domainColor":"#14368F","domainWidth":2,"ticks":false,"labels":false,"grid":false,"title":"资料来源：CEIC，申万宏源研究","titleX":0,"titleY":17,"titleAlign":"left","titleBaseline":"middle","titleFontSize":13.5,"titleFontWeight":"normal","titleColor":"#233F8A","titleAngle":0}},
"x2":{"field":"t2"},"y":{"field":"v1","type":"quantitative","scale":{"domain":[-20,20],"nice":false}},"y2":{"field":"v2"}}},
{"data":{"name":"arrows"},"transform":[{"filter":"datum.id === 'a'"}],"mark":{"type":"point","shape":"triangle","angle":50,"size":28,"filled":true,"color":"#5B7FC0","opacity":1},
"encoding":{"x":{"field":"t2","type":"quantitative","scale":{"domain":[2012.012,2024.396],"nice":false,"zero":false},"axis":null},"y":{"field":"v2","type":"quantitative","scale":{"domain":[-20,20],"nice":false}}}},
{"data":{"name":"arrows"},"transform":[{"filter":"datum.id === 'b'"}],"mark":{"type":"point","shape":"triangle","angle":112,"size":28,"filled":true,"color":"#5B7FC0","opacity":1},
"encoding":{"x":{"field":"t2","type":"quantitative","scale":{"domain":[2012.012,2024.396],"nice":false,"zero":false},"axis":null},"y":{"field":"v2","type":"quantitative","scale":{"domain":[-20,20],"nice":false}}}},
{"data":{"name":"arrows"},"transform":[{"filter":"datum.id === 'c'"}],"mark":{"type":"point","shape":"triangle","angle":67,"size":28,"filled":true,"color":"#5B7FC0","opacity":1},
"encoding":{"x":{"field":"t2","type":"quantitative","scale":{"domain":[2012.012,2024.396],"nice":false,"zero":false},"axis":null},"y":{"field":"v2","type":"quantitative","scale":{"domain":[-20,20],"nice":false}}}},
{"data":{"values":[{}]},"mark":{"type":"text","text":["2015年底，全球制造业","和商品贸易触底反弹"],"align":"left","baseline":"middle","fontSize":9.6,"lineHeight":12.5,"color":"#404040"},
"encoding":{"x":{"datum":2014.976,"type":"quantitative","scale":{"domain":[2012.012,2024.396],"nice":false,"zero":false},"axis":null},"y":{"datum":-10.27,"type":"quantitative","scale":{"domain":[-20,20],"nice":false}}}}
]},
{
"width":371,"height":185,
"title":{"text":"图 62：新兴市场经济体工业生产的比较","anchor":"start","frame":"group","fontSize":16,"fontWeight":"bold","color":"#1B3A8C","offset":0},
"resolve":{"axis":{"x":"independent"}},
"layer":[
{"data":{"values":[{}]},"mark":{"type":"rule","color":"#9DC3E6","strokeWidth":1.3},
"encoding":{"x":{"datum":2012.967,"type":"quantitative","scale":{"domain":[2012.273,2024.53],"nice":false,"zero":false},
"axis":{"orient":"bottom","offset":-92.5,"domain":false,"ticks":true,"tickSize":3,"tickColor":"#9DC3E6","labels":false,"grid":false,"values":[2014,2015,2016,2017,2018,2019,2020,2021,2022,2023,2024],"title":null}},
"x2":{"datum":2024.3},"y":{"datum":0,"type":"quantitative","scale":{"domain":[-20,20],"nice":false}}}},
{"data":{"name":"em"},"transform":[{"filter":{"field":"s","oneOf":["拉丁美洲","非洲和中东"]}}],"mark":{"type":"line","strokeWidth":2.2,"interpolate":"monotone","clip":true},
"encoding":{"x":{"field":"t","type":"quantitative","scale":{"domain":[2012.273,2024.53],"nice":false,"zero":false},
"axis":{"orient":"top","offset":51.5,"domainColor":"#14368F","domainWidth":2,"ticks":false,"labels":false,"grid":false,"title":"新兴与发展经济体：工业生产指数","titleX":180,"titleY":25.5,"titleAlign":"center","titleBaseline":"middle","titleFontSize":8.3,"titleFontWeight":"normal","titleColor":"#52638C","titleAngle":0}},
"y":{"field":"v","type":"quantitative","scale":{"domain":[-20,20],"nice":false}},
"color":{"field":"s","type":"nominal","scale":{"domain":["新兴与发展经济体","中国","亚洲 (不包括中国)","中欧和东欧","拉丁美洲","非洲和中东"],"range":["#0070C0","#A5A5A5","#C00000","#FFC000","#47AEF0","#C4C4C4"]},
"legend":{"orient":"none","legendX":48,"legendY":-15,"direction":"horizontal","columns":2,"gridAlign":"all","title":null,"symbolType":"stroke","symbolSize":289,"symbolStrokeWidth":2.5,"labelFontSize":7.2,"labelColor":"#3C5A9A","labelOffset":1,"columnPadding":31,"rowPadding":0,"labelLimit":0}}}},
{"data":{"name":"em"},"transform":[{"filter":{"field":"s","oneOf":["新兴与发展经济体","中国"]}}],"mark":{"type":"line","strokeWidth":2.2,"interpolate":"monotone","clip":true},
"encoding":{"x":{"field":"t","type":"quantitative","scale":{"domain":[2012.273,2024.53],"nice":false,"zero":false},
"axis":{"orient":"bottom","values":[2013,2014,2015,2016,2017,2018,2019,2020,2021,2022,2023,2024],"format":"d","domain":false,"ticks":false,"grid":false,"labelFontSize":7.5,"labelColor":"#4B6BAE","labelPadding":4,"title":null}},
"y":{"field":"v","type":"quantitative","scale":{"domain":[-20,20],"nice":false},
"axis":{"orient":"left","offset":-21,"values":[-20,-15,-10,-5,0,5,10,15,20],"domainColor":"#9DC3E6","tickColor":"#9DC3E6","tickSize":3,"labelFontSize":7.5,"labelColor":"#4B6BAE","labelPadding":2,"grid":false,"title":"%，同比","titleAngle":0,"titleAlign":"left","titleBaseline":"middle","titleX":-16,"titleY":-27.5,"titleFontSize":8.5,"titleFontWeight":"normal","titleColor":"#52638C"}},
"color":{"field":"s","type":"nominal","scale":{"domain":["新兴与发展经济体","中国","亚洲 (不包括中国)","中欧和东欧","拉丁美洲","非洲和中东"],"range":["#0070C0","#A5A5A5","#C00000","#FFC000","#47AEF0","#C4C4C4"]},
"legend":{"orient":"none","legendX":48,"legendY":-15,"direction":"horizontal","columns":2,"gridAlign":"all","title":null,"symbolType":"stroke","symbolSize":289,"symbolStrokeWidth":2.5,"labelFontSize":7.2,"labelColor":"#3C5A9A","labelOffset":1,"columnPadding":31,"rowPadding":0,"labelLimit":0}}}},
{"data":{"name":"em"},"transform":[{"filter":{"field":"s","oneOf":["亚洲 (不包括中国)","中欧和东欧"]}}],"mark":{"type":"line","strokeWidth":2.2,"interpolate":"monotone","clip":true},
"encoding":{"x":{"field":"t","type":"quantitative","scale":{"domain":[2012.273,2024.53],"nice":false,"zero":false},
"axis":{"orient":"bottom","offset":22,"domainColor":"#14368F","domainWidth":2,"ticks":false,"labels":false,"grid":false,"title":"资料来源：CEIC、申万宏源研究","titleX":0,"titleY":17,"titleAlign":"left","titleBaseline":"middle","titleFontSize":13.5,"titleFontWeight":"normal","titleColor":"#233F8A","titleAngle":0}},
"y":{"field":"v","type":"quantitative","scale":{"domain":[-20,20],"nice":false}},
"color":{"field":"s","type":"nominal","scale":{"domain":["新兴与发展经济体","中国","亚洲 (不包括中国)","中欧和东欧","拉丁美洲","非洲和中东"],"range":["#0070C0","#A5A5A5","#C00000","#FFC000","#47AEF0","#C4C4C4"]},
"legend":{"orient":"none","legendX":48,"legendY":-15,"direction":"horizontal","columns":2,"gridAlign":"all","title":null,"symbolType":"stroke","symbolSize":289,"symbolStrokeWidth":2.5,"labelFontSize":7.2,"labelColor":"#3C5A9A","labelOffset":1,"columnPadding":31,"rowPadding":0,"labelLimit":0}}}}
]}
]
}
